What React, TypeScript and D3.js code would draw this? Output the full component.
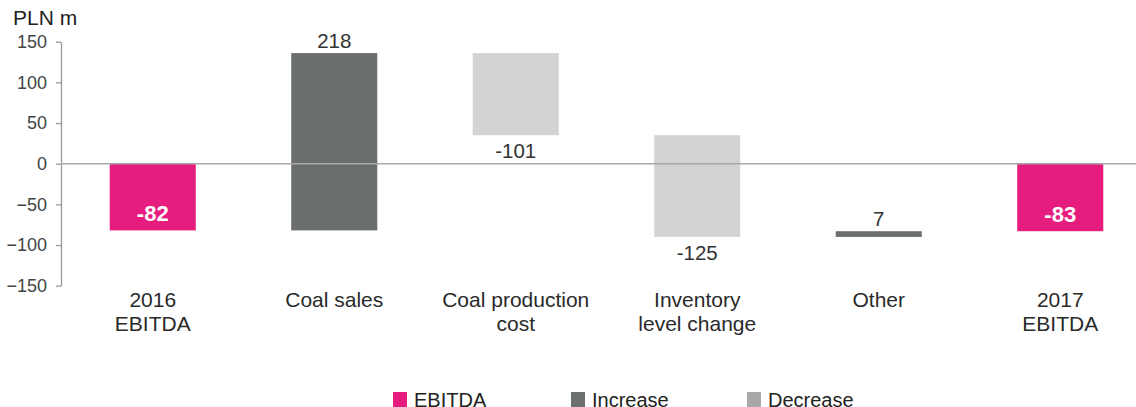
import React, { useEffect, useRef } from "react";
import * as d3 from "d3";

// EBITDA bridge, 2016 → 2017 (PLN m)
const categories = [
  ["2016", "EBITDA"],
  ["Coal sales"],
  ["Coal production", "cost"],
  ["Inventory", "level change"],
  ["Other"],
  ["2017", "EBITDA"],
];
const values = [-82, 218, -101, -125, 7, -83];
const kinds = ["total", "increase", "decrease", "decrease", "increase", "total"];
const yTicks = [150, 100, 50, 0, -50, -100, -150];
const legendItems = [
  { key: "total", label: "EBITDA" },
  { key: "increase", label: "Increase" },
  { key: "decrease", label: "Decrease" },
];

const W = 1136;
const H = 407;
const FONT = "'Liberation Sans', Arial, sans-serif";

const barColor: Record<string, string> = {
  total: "#e61c7e",
  increase: "#6b6e6e",
  decrease: "#d3d3d3",
};
const swatchColor: Record<string, string> = {
  total: "#e61c7e",
  increase: "#6d7070",
  decrease: "#a8a8aa",
};

export default function App() {
  const ref = useRef<SVGSVGElement | null>(null);

  useEffect(() => {
    const svg = d3.select(ref.current);
    svg.selectAll("*").remove();

    const y = d3.scaleLinear().domain([-150, 150]).range([285.7, 41.7]);
    const keys = categories.map((_, i) => String(i));
    const x = d3
      .scaleBand<string>()
      .domain(keys)
      .range([62, 1151])
      .paddingInner(0.526)
      .paddingOuter(0.263);

    // running totals for the floating bars
    let run = 0;
    const bars = values.map((v, i) => {
      let lo: number, hi: number;
      if (kinds[i] === "total") {
        lo = Math.min(0, v);
        hi = Math.max(0, v);
        run = v;
      } else {
        const start = run;
        run = run + v;
        lo = Math.min(start, run);
        hi = Math.max(start, run);
      }
      return { i, v, kind: kinds[i], lo, hi };
    });

    // y axis
    const axis = svg
      .append("g")
      .attr("transform", "translate(61,0)")
      .call(
        d3
          .axisLeft(y)
          .tickValues(yTicks)
          .tickSize(5)
          .tickPadding(9)
          .tickSizeOuter(0)
      );
    axis.select(".domain").attr("stroke", "#9a9a9a").attr("stroke-width", 1.3);
    axis.selectAll(".tick line").attr("stroke", "#9a9a9a").attr("stroke-width", 1.3);
    axis
      .selectAll(".tick text")
      .attr("fill", "#444")
      .style("font-family", FONT)
      .style("font-size", "18px");

    svg
      .append("text")
      .attr("x", 13)
      .attr("y", 25)
      .attr("fill", "#222")
      .style("font-family", FONT)
      .style("font-size", "21px")
      .text("PLN m");

    // bars
    svg
      .append("g")
      .selectAll("rect")
      .data(bars)
      .join("rect")
      .attr("x", (d) => x(String(d.i))!)
      .attr("width", x.bandwidth())
      .attr("y", (d) => y(d.hi))
      .attr("height", (d) => Math.max(1, y(d.lo) - y(d.hi)))
      .attr("fill", (d) => barColor[d.kind]);

    // zero line across the plot
    svg
      .append("line")
      .attr("x1", 61)
      .attr("x2", W)
      .attr("y1", y(0))
      .attr("y2", y(0))
      .attr("stroke", "#a8a8a8")
      .attr("stroke-width", 1.6);

    // value labels
    svg
      .append("g")
      .selectAll("text")
      .data(bars)
      .join("text")
      .attr("x", (d) => x(String(d.i))! + x.bandwidth() / 2)
      .attr("y", (d) => {
        if (d.kind === "total") return y(d.lo) - 9;
        if (d.kind === "increase") return y(d.hi) - 5;
        return y(d.lo) + 23;
      })
      .attr("text-anchor", "middle")
      .attr("fill", (d) => (d.kind === "total" ? "#fff" : "#333"))
      .style("font-family", FONT)
      .style("font-weight", (d) => (d.kind === "total" ? "bold" : "normal"))
      .style("font-size", (d) => (d.kind === "total" ? "22px" : "20.5px"))
      .text((d) => String(d.v));

    // category labels
    const cat = svg
      .append("g")
      .selectAll("text")
      .data(categories)
      .join("text")
      .attr("x", (_, i) => x(String(i))! + x.bandwidth() / 2)
      .attr("y", 306.5)
      .attr("text-anchor", "middle")
      .attr("fill", "#2a2a2a")
      .style("font-family", FONT)
      .style("font-size", "21px");
    cat
      .selectAll("tspan")
      .data((d) => d)
      .join("tspan")
      .attr("x", function () {
        return (this as SVGTSpanElement).parentElement!.getAttribute("x");
      })
      .attr("dy", (_, j) => (j === 0 ? 0 : 24))
      .text((d) => d);

    // legend
    const legendX = [393, 571, 747];
    const lg = svg
      .append("g")
      .selectAll("g")
      .data(legendItems)
      .join("g")
      .attr("transform", (_, i) => `translate(${legendX[i]},392)`);
    lg.append("rect")
      .attr("width", 14)
      .attr("height", 16)
      .attr("fill", (d) => swatchColor[d.key]);
    lg.append("text")
      .attr("x", 21)
      .attr("y", 14.5)
      .attr("fill", "#222")
      .style("font-family", FONT)
      .style("font-size", "20px")
      .text((d) => d.label);
  }, []);

  return (
    <svg
      ref={ref}
      width={W}
      height={H}
      style={{ position: "absolute", left: 0, top: 0, background: "#fff" }}
    />
  );
}
